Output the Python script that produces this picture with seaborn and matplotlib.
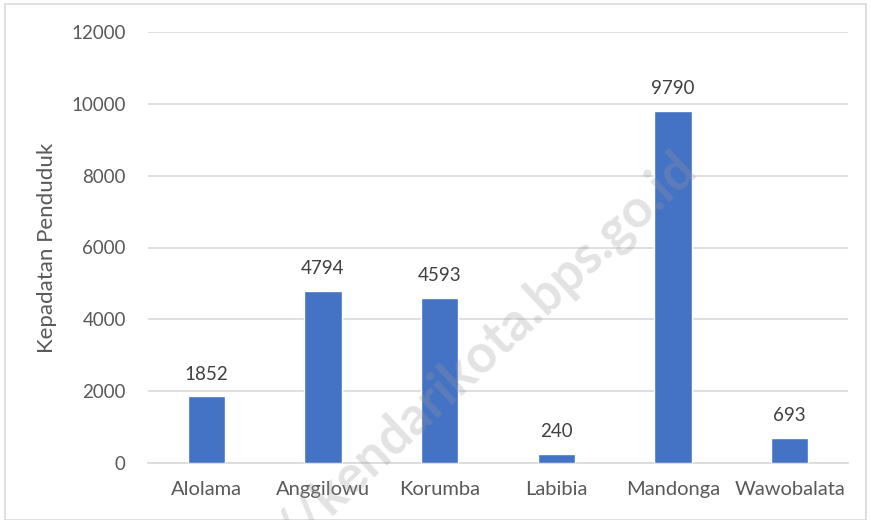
import matplotlib
matplotlib.use('Agg')
import matplotlib.pyplot as plt
import seaborn as sns
import pandas as pd

kelurahan = ['Alolama', 'Anggilowu', 'Korumba', 'Labibia', 'Mandonga', 'Wawobalata']
kepadatan = [1852, 4794, 4593, 240, 9790, 693]

sns.set_theme(style='white')
plt.rcParams['font.family'] = ['Lato', 'DejaVu Sans']

df = pd.DataFrame({'kelurahan': kelurahan, 'kepadatan': kepadatan})

fig = plt.figure(figsize=(8.71, 5.2), dpi=100)
ax = fig.add_axes([148/871, 1 - 463/520, 700/871, 431/520])

sns.barplot(data=df, x='kelurahan', y='kepadatan', color='#4472C4',
            width=0.32, saturation=1, ax=ax, zorder=3)

ax.set_ylim(0, 12000)
ax.set_yticks(range(0, 12001, 2000))
ax.yaxis.grid(True, color='#d9d9d9', linewidth=1.2, zorder=0)
ax.set_xlim(-0.5, len(kelurahan) - 0.5)
for s in ['top', 'right', 'left']:
    ax.spines[s].set_visible(False)
ax.spines['bottom'].set_color('#d9d9d9')
ax.spines['bottom'].set_linewidth(1.2)
ax.tick_params(axis='y', length=0, labelsize=13.5, labelcolor='#595959', pad=16)
ax.tick_params(axis='x', length=0, labelsize=14.5, labelcolor='#595959', pad=13)
ax.set_xlabel('')
ax.set_ylabel('Kepadatan Penduduk', fontsize=16, color='#595959', labelpad=10)

for i, v in enumerate(kepadatan):
    ax.annotate(str(v), (i, v), xytext=(0, 10), textcoords='offset points',
                ha='center', va='bottom', fontsize=13.5, color='#404040')

# watermark
fig.text(688/871, 1 - 160/520, 'https://kendarikota.bps.go.id', rotation=43,
         rotation_mode='anchor', ha='right', va='center', fontsize=38,
         fontweight='bold', color='#9a9a9a', alpha=0.28, zorder=10)

fig.patches.append(plt.Rectangle((5/871, 0), 861/871, 1 - 4/520,
                                 transform=fig.transFigure, fill=False,
                                 edgecolor='#d9d9d9', linewidth=1.2))

fig.savefig('out.png', dpi=100)
